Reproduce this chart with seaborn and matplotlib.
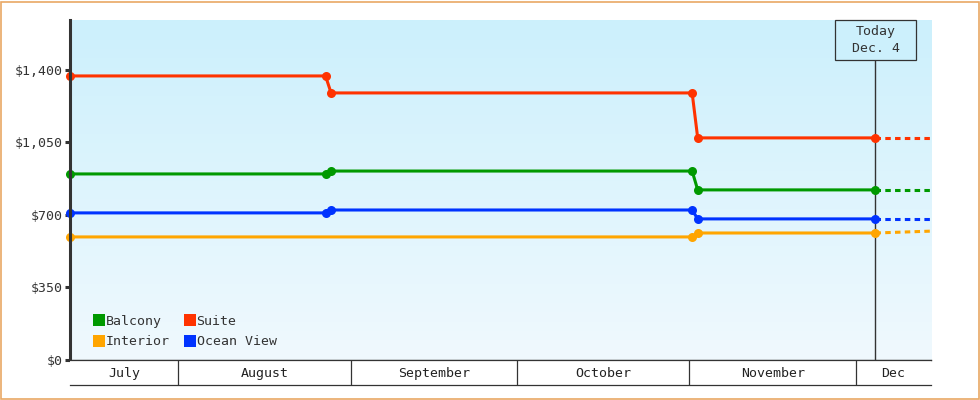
import pandas as pd
import numpy as np
import matplotlib.pyplot as plt
from matplotlib.colors import LinearSegmentedColormap
from matplotlib.lines import Line2D
from matplotlib.patches import Rectangle
from matplotlib.ticker import FuncFormatter
import seaborn as sns

# price history
dates = ["2013-07-12", "2013-08-27", "2013-08-28", "2013-11-01", "2013-11-02", "2013-12-04"]
interior_dates = ["2013-07-12", "2013-11-01", "2013-11-02", "2013-12-04"]
balcony = [898, 898, 912, 912, 821, 821]
suite = [1371, 1371, 1289, 1289, 1072, 1072]
ocean_view = [710, 710, 724, 724, 681, 681]
interior = [594, 594, 613, 613]

# projection after today
proj_dates = ["2013-12-04", "2013-12-14"]
proj_balcony = [821, 821]
proj_suite = [1072, 1072]
proj_ocean_view = [681, 681]
proj_interior = [613, 622]

today = "2013-12-04"
today_label = "Today\nDec. 4"

months = ["July", "August", "September", "October", "November", "Dec"]
month_starts = ["2013-07-01", "2013-08-01", "2013-09-01", "2013-10-01", "2013-11-01", "2013-12-01", "2014-01-01"]

yticks = [0, 350, 700, 1050, 1400]

colors = {"Balcony": "#009900", "Suite": "#ff3300", "Interior": "#ffa500", "Ocean View": "#0033ff"}
legend_order = ["Balcony", "Interior", "Suite", "Ocean View"]

noon = pd.Timedelta(hours=12)


def to_dt(lst):
    return pd.to_datetime(lst) + noon


hist = pd.concat([
    pd.DataFrame({"date": to_dt(dates), "price": balcony, "cabin": "Balcony"}),
    pd.DataFrame({"date": to_dt(dates), "price": suite, "cabin": "Suite"}),
    pd.DataFrame({"date": to_dt(dates), "price": ocean_view, "cabin": "Ocean View"}),
    pd.DataFrame({"date": to_dt(interior_dates), "price": interior, "cabin": "Interior"}),
])
proj = pd.concat([
    pd.DataFrame({"date": to_dt(proj_dates), "price": proj_balcony, "cabin": "Balcony"}),
    pd.DataFrame({"date": to_dt(proj_dates), "price": proj_suite, "cabin": "Suite"}),
    pd.DataFrame({"date": to_dt(proj_dates), "price": proj_ocean_view, "cabin": "Ocean View"}),
    pd.DataFrame({"date": to_dt(proj_dates), "price": proj_interior, "cabin": "Interior"}),
])

sns.set_style("white")
plt.rcParams["font.family"] = ["DejaVu Sans Mono"]
plt.rcParams["font.size"] = 9.5
dark = "#333333"

fig = plt.figure(figsize=(9.8, 4.0), dpi=100)
W, H = 980, 400
ax = fig.add_axes([70 / W, 40 / H, 861 / W, 340 / H])

x0 = hist["date"].min()
x1 = proj["date"].max()

# gradient background
cmap = LinearSegmentedColormap.from_list("bg", ["#f0f9fe", "#ccf0fc"])
grad = np.linspace(0, 1, 256).reshape(-1, 1)
ax.imshow(grad, cmap=cmap, origin="lower", aspect="auto", extent=[0, 1, 0, 1],
          transform=ax.transAxes, zorder=0)

sns.lineplot(data=proj, x="date", y="price", hue="cabin", palette=colors, ax=ax,
             linewidth=2.2, linestyle=(0, (1.8, 1.4)), legend=False, estimator=None,
             sort=False, zorder=3)
sns.lineplot(data=hist, x="date", y="price", hue="cabin", palette=colors, ax=ax,
             linewidth=2.2, marker="o", markersize=6.5, markeredgewidth=0,
             legend=False, estimator=None, sort=False, zorder=4, clip_on=False)

ax.set_xlim(x0, x1)
ax.set_ylim(0, 1641)
ax.set_yticks(yticks)
ax.yaxis.set_major_formatter(FuncFormatter(lambda v, p: "${:,.0f}".format(v)))
ax.set_xticks([])
ax.set_xlabel("")
ax.set_ylabel("")
ax.tick_params(axis="y", left=True, length=3.6, width=2.2, color=dark, pad=1.5,
               labelcolor=dark, labelsize=9.5)
for s in ["top", "right"]:
    ax.spines[s].set_visible(False)
ax.spines["left"].set_color(dark)
ax.spines["left"].set_linewidth(2.2)
ax.spines["left"].set_zorder(5)
ax.spines["bottom"].set_color(dark)
ax.spines["bottom"].set_linewidth(0.9)

# today marker
td = pd.to_datetime(today) + noon
ax.axvline(td, ymin=0, ymax=(360 - 60) / 340, color=dark, linewidth=1.0, zorder=2)
fig.patches.append(Rectangle((835 / W, 340 / H), 81 / W, 40 / H, transform=fig.transFigure,
                             facecolor="#ccf0fc", edgecolor=dark, linewidth=0.9, zorder=5))
fig.text(875.5 / W, 360 / H, today_label, ha="center", va="center", color=dark,
         fontsize=9.5, linespacing=1.3, zorder=6)

# legend
handles = [Line2D([], [], marker="s", linestyle="none", markersize=8,
                  markerfacecolor=colors[c], markeredgewidth=0, label=c) for c in legend_order]
ax.legend(handles=handles, ncol=2, loc="lower left", bbox_to_anchor=(0.029, 0.034),
          frameon=False, handlelength=0.6, handletextpad=0.2, columnspacing=1.25,
          labelspacing=0.6, borderpad=0, borderaxespad=0, fontsize=9.5,
          labelcolor=dark)

# month band under the plot
mx = fig.add_axes([70 / W, 15 / H, 861 / W, 25 / H], facecolor="white")
mx.set_xlim(x0, x1)
mx.set_ylim(0, 1)
mx.set_xticks([])
mx.set_yticks([])
for s in ["left", "right"]:
    mx.spines[s].set_visible(False)
for s in ["top", "bottom"]:
    mx.spines[s].set_color(dark)
    mx.spines[s].set_linewidth(0.9)
starts = pd.to_datetime(month_starts)
for i, name in enumerate(months):
    a = max(starts[i], x0)
    b = min(starts[i + 1], x1)
    if starts[i] > x0:
        mx.axvline(starts[i], color=dark, linewidth=0.9)
    mx.text(a + (b - a) / 2, 0.45, name, ha="center", va="center", color="#222222",
            fontsize=9.5)

# outer border
fig.patches.append(Rectangle((0.5 / W, 1.5 / H), 978.5 / W, 397 / H, transform=fig.transFigure,
                             fill=False, edgecolor="#e9a865", linewidth=1.2))

fig.savefig("out.png", dpi=100)
